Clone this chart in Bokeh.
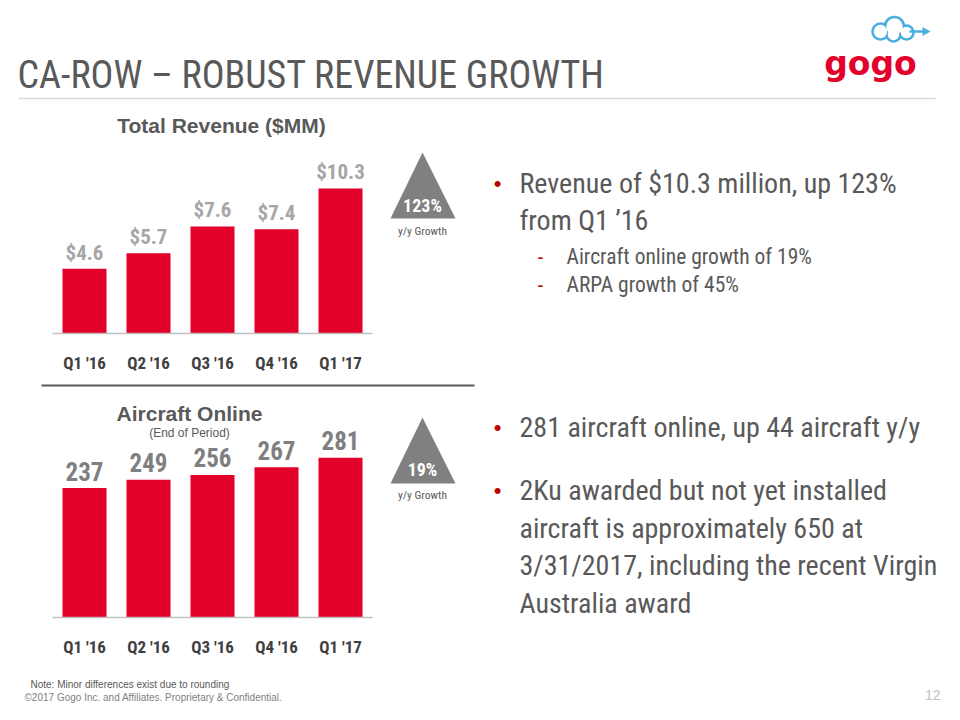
from bokeh.plotting import figure
from bokeh.models import Range1d
from bokeh.core.properties import value
from bokeh.embed import file_html
from bokeh.resources import INLINE

# ---------------- data ----------------
quarters = ["Q1 '16", "Q2 '16", "Q3 '16", "Q4 '16", "Q1 '17"]
revenue = [4.6, 5.7, 7.6, 7.4, 10.3]
aircraft = [237, 249, 256, 267, 281]
revenue_growth = "123%"
aircraft_growth = "19%"

# ---------------- layout / style ----------------
W, H = 944, 704
RED = "#e3002b"
NARROW = "'Roboto Condensed', 'Liberation Sans', sans-serif"
SANS = "'Liberation Sans', Arial, sans-serif"

p = figure(width=W, height=H, x_range=Range1d(0, W), y_range=Range1d(H, 0),
           output_backend="svg", toolbar_location=None, min_border=0,
           x_axis_type=None, y_axis_type=None)
p.grid.visible = False
p.outline_line_color = None
p.background_fill_color = "white"


def lin_range(v0, px0, v1, px1, px_start, px_end):
    k = (v1 - v0) / (px1 - px0)
    return Range1d(v0 + (px_start - px0) * k, v0 + (px_end - px0) * k)


# category slots 0..5 over px 52..372 ; revenue axis 0..12 over px 333..164 ;
# aircraft axis 50..300 over px 617..444
p.extra_x_ranges["cat"] = lin_range(0, 52, len(quarters), 372, 0, W)
p.extra_y_ranges["rev"] = lin_range(0, 333, 12, 164, H, 0)
p.extra_y_ranges["air"] = lin_range(50, 617, 300, 444, H, 0)

xs = [i + 0.5 for i in range(len(quarters))]


def txt(x, y, s, size, color, font=SANS, style="normal", align="left",
        xr="default", yr="default", y_offset=0):
    if not isinstance(x, list):
        x, y, s = [x], [y], [s]
    p.text(x=x, y=y, text=s, text_font_size=size, text_color=color, text_font=value(font),
           text_font_style=style, text_align=align, text_baseline="middle",
           x_range_name=xr, y_range_name=yr, y_offset=y_offset)


# ---------------- header ----------------
txt(17, 74, "CA-ROW \u2013 ROBUST REVENUE GROWTH", "38px", "#595959", font=NARROW)
p.segment(x0=[18], y0=[98], x1=[935], y1=[98], line_color="#d9d9d9", line_width=1.5)

# logo: cloud with arrow + "gogo"
BLUE = "#4aaee0"
cx = [880, 894, 906, 893]
cy = [31, 26, 32, 34]
cr = [8, 9.5, 7, 7]
p.circle(x=cx, y=cy, radius=[r + 1.3 for r in cr], fill_color=BLUE, line_color=None)
p.circle(x=cx, y=cy, radius=[r - 1.3 for r in cr], fill_color="white", line_color=None)
p.segment(x0=[909], y0=[31], x1=[926], y1=[31], line_color=BLUE, line_width=2.5)
p.patch(x=[922, 930, 922], y=[26.5, 31, 35.5], fill_color=BLUE, line_color=None)
txt(870, 63, "gogo", "33px", RED, font="'DejaVu Sans', sans-serif", style="bold",
    align="center")

# ---------------- revenue chart ----------------
txt(221, 125, "Total Revenue ($MM)", "21px", "#595959", style="bold", align="center")
p.vbar(x=xs, width=44 / 64, top=revenue, bottom=0, fill_color=RED, line_color=None,
       x_range_name="cat", y_range_name="rev")
p.segment(x0=[0], y0=[0], x1=[len(quarters)], y1=[0], line_color="#bfbfbf", line_width=1.5,
          x_range_name="cat", y_range_name="rev")
txt(xs, revenue, ["$%.1f" % v for v in revenue], "21px", "#a6a6a6", font=NARROW, style="bold",
    align="center", xr="cat", yr="rev", y_offset=-16)
txt(xs, [362] * len(xs), quarters, "17px", "#404040", font=NARROW, style="bold",
    align="center", xr="cat")

p.patch(x=[390, 422, 455], y=[218, 152, 218], fill_color="#808080", line_color=None)
txt(422, 205, revenue_growth, "18px", "white", font=NARROW, style="bold", align="center")
txt(422, 230, "y/y Growth", "11.5px", "#595959", font=NARROW, align="center")

p.segment(x0=[41], y0=[385], x1=[474], y1=[385], line_color="#595959", line_width=2)

# ---------------- aircraft chart ----------------
txt(189, 413, "Aircraft Online", "21px", "#595959", style="bold", align="center")
txt(189, 432, "(End of Period)", "12px", "#595959", align="center")
p.vbar(x=xs, width=44 / 64, top=aircraft, bottom=50, fill_color=RED, line_color=None,
       x_range_name="cat", y_range_name="air")
p.segment(x0=[0], y0=[50], x1=[len(quarters)], y1=[50], line_color="#bfbfbf", line_width=1.5,
          x_range_name="cat", y_range_name="air")
txt(xs, aircraft, [str(v) for v in aircraft], "25px", "#7f7f7f", font=NARROW, style="bold",
    align="center", xr="cat", yr="air", y_offset=-17)
txt(xs, [646] * len(xs), quarters, "17px", "#404040", font=NARROW, style="bold",
    align="center", xr="cat")

p.patch(x=[390, 422, 455], y=[483, 417, 483], fill_color="#808080", line_color=None)
txt(422, 469, aircraft_growth, "18px", "white", font=NARROW, style="bold", align="center")
txt(422, 494, "y/y Growth", "11.5px", "#595959", font=NARROW, align="center")

# ---------------- right-hand bullets ----------------
BUL = "\u2022"
BSZ = "28px"
txt(497, 183, BUL, "22px", "#c00000", align="center")
txt(519, 183, "Revenue of $10.3 million, up 123%", BSZ, "#595959", font=NARROW)
txt(519, 220, "from Q1 \u201916", BSZ, "#595959", font=NARROW)
txt(540, 256, "-", "21.5px", "#c00000", font=NARROW, align="center")
txt(566, 256, "Aircraft online growth of 19%", "21.5px", "#595959", font=NARROW)
txt(540, 284, "-", "21.5px", "#c00000", font=NARROW, align="center")
txt(566, 284, "ARPA growth of 45%", "21.5px", "#595959", font=NARROW)

txt(497, 427, BUL, "22px", "#c00000", align="center")
txt(519, 427, "281 aircraft online, up 44 aircraft y/y", BSZ, "#595959", font=NARROW)
txt(497, 490, BUL, "22px", "#c00000", align="center")
lines = ["2Ku awarded but not yet installed",
         "aircraft is approximately 650 at",
         "3/31/2017, including the recent Virgin",
         "Australia award"]
for i, ln in enumerate(lines):
    txt(519, 490 + 37.6 * i, ln, BSZ, "#595959", font=NARROW)

# ---------------- footer ----------------
txt(30, 684, "Note: Minor differences exist due to rounding", "10px", "#595959")
txt(24, 697, "\u00a92017 Gogo Inc. and Affiliates. Proprietary & Confidential.", "10px", "#7f7f7f")
txt(940, 694, "12", "14px", "#bfbfbf", align="right")

open("out.html", "w").write(file_html(p, INLINE))
